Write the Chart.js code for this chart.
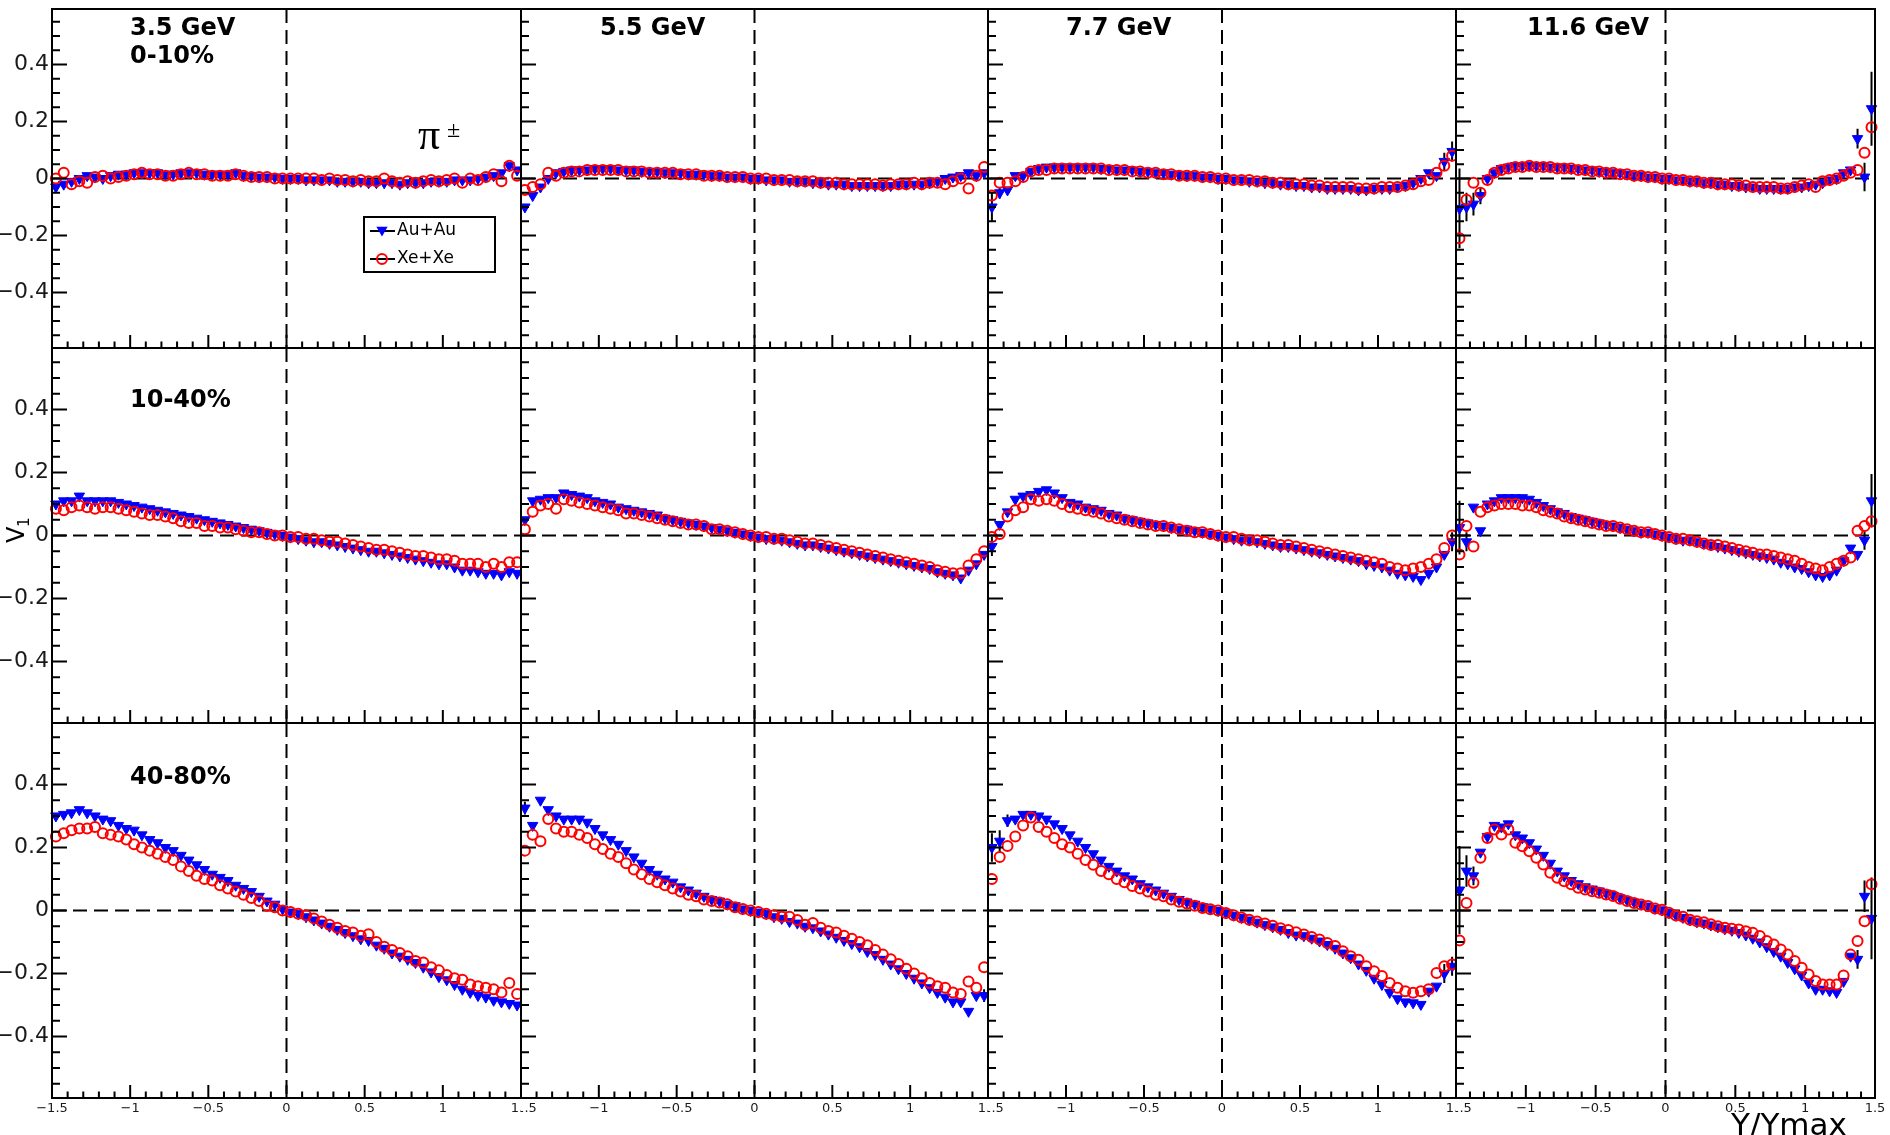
<!DOCTYPE html>
<html>
<head>
<meta charset="utf-8">
<title>v1 vs Y/Ymax, pi+-</title>
<script src="https://cdn.jsdelivr.net/npm/chart.js@4.4.0/dist/chart.umd.min.js"></script>
<style>
  html, body { margin: 0; padding: 0; background: #fff; }
  #page { position: relative; width: 1890px; height: 1135px; overflow: hidden; background: #fff; }
  #page canvas { position: absolute; }
</style>
</head>
<body>
<div id="page"></div>
<script>
// bin centres, Y/Ymax
const yBins = [
  -1.475, -1.425, -1.375, -1.325, -1.275, -1.225, -1.175, -1.125, -1.075, -1.025,
  -0.975, -0.925, -0.875, -0.825, -0.775, -0.725, -0.675, -0.625, -0.575, -0.525,
  -0.475, -0.425, -0.375, -0.325, -0.275, -0.225, -0.175, -0.125, -0.075, -0.025,
  0.025, 0.075, 0.125, 0.175, 0.225, 0.275, 0.325, 0.375, 0.425, 0.475,
  0.525, 0.575, 0.625, 0.675, 0.725, 0.775, 0.825, 0.875, 0.925, 0.975,
  1.025, 1.075, 1.125, 1.175, 1.225, 1.275, 1.325, 1.375, 1.425, 1.475
];

// ---- 0-10% ----
const au35_c0010 = [
  -0.03, -0.02, -0.01, 0.0, 0.01, 0.005, 0.0, 0.01, 0.015, 0.015,
  0.02, 0.02, 0.02, 0.02, 0.015, 0.015, 0.02, 0.02, 0.02, 0.015,
  0.015, 0.015, 0.015, 0.02, 0.01, 0.01, 0.005, 0.005, 0.005, 0.0,
  0.0, 0.0, -0.005, -0.005, -0.005, -0.005, -0.01, -0.01, -0.01, -0.01,
  -0.015, -0.015, -0.015, -0.015, -0.02, -0.015, -0.015, -0.015, -0.01, -0.01,
  -0.01, -0.005, -0.005, -0.005, 0.0, 0.005, 0.01, 0.02, 0.045, 0.03
];
const xe35_c0010 = [
  0.0, 0.02, -0.02, -0.01, -0.015, 0.005, 0.01, 0.0, 0.005, 0.01,
  0.015, 0.02, 0.015, 0.015, 0.01, 0.01, 0.015, 0.02, 0.015, 0.015,
  0.01, 0.01, 0.01, 0.015, 0.01, 0.005, 0.005, 0.005, 0.0, 0.0,
  0.0, 0.0, 0.0, 0.0, -0.005, 0.0, -0.005, -0.005, -0.01, -0.005,
  -0.01, -0.01, 0.0, -0.01, -0.015, -0.01, -0.015, -0.01, -0.005, -0.01,
  -0.005, 0.0, -0.015, 0.0, -0.005, 0.005, 0.015, -0.01, 0.045, 0.01
];
const au55_c0010 = [
  -0.10, -0.06, -0.03, 0.0, 0.02, 0.025, 0.03, 0.03, 0.03, 0.035,
  0.035, 0.035, 0.03, 0.03, 0.03, 0.025, 0.025, 0.025, 0.02, 0.02,
  0.02, 0.015, 0.015, 0.015, 0.01, 0.01, 0.005, 0.005, 0.005, 0.0,
  0.0, -0.005, -0.005, -0.005, -0.01, -0.01, -0.01, -0.015, -0.015, -0.02,
  -0.02, -0.02, -0.025, -0.025, -0.025, -0.025, -0.025, -0.025, -0.02, -0.02,
  -0.02, -0.02, -0.015, -0.01, 0.0, 0.005, 0.01, 0.02, 0.01, 0.02
];
const xe55_c0010 = [
  -0.04, -0.03, -0.02, 0.02, 0.01, 0.02, 0.025, 0.025, 0.03, 0.03,
  0.03, 0.03, 0.03, 0.025, 0.025, 0.025, 0.02, 0.02, 0.02, 0.02,
  0.015, 0.015, 0.015, 0.01, 0.01, 0.01, 0.005, 0.005, 0.005, 0.0,
  0.0, 0.0, -0.005, -0.005, -0.005, -0.01, -0.01, -0.01, -0.015, -0.015,
  -0.015, -0.02, -0.02, -0.02, -0.02, -0.02, -0.025, -0.02, -0.02, -0.02,
  -0.015, -0.02, -0.015, -0.015, -0.02, -0.01, 0.0, -0.035, 0.01, 0.04
];
const au77_c0010 = [
  -0.10, -0.05, -0.04, 0.01, 0.01, 0.025, 0.035, 0.04, 0.04, 0.04,
  0.04, 0.04, 0.04, 0.04, 0.035, 0.035, 0.03, 0.03, 0.03, 0.025,
  0.025, 0.02, 0.02, 0.015, 0.015, 0.01, 0.01, 0.005, 0.005, 0.0,
  0.0, -0.005, -0.005, -0.01, -0.01, -0.015, -0.015, -0.02, -0.02, -0.025,
  -0.025, -0.03, -0.03, -0.035, -0.035, -0.035, -0.035, -0.04, -0.04, -0.035,
  -0.035, -0.035, -0.03, -0.025, -0.015, 0.0, 0.02, 0.01, 0.06, 0.095
];
const xe77_c0010 = [
  -0.06, -0.015, -0.015, -0.01, 0.005, 0.025, 0.03, 0.03, 0.035, 0.035,
  0.035, 0.035, 0.035, 0.035, 0.035, 0.03, 0.03, 0.03, 0.025, 0.025,
  0.02, 0.02, 0.015, 0.015, 0.01, 0.01, 0.01, 0.005, 0.005, 0.0,
  0.0, -0.005, -0.005, -0.005, -0.01, -0.01, -0.015, -0.015, -0.02, -0.02,
  -0.02, -0.025, -0.025, -0.03, -0.03, -0.03, -0.03, -0.035, -0.035, -0.035,
  -0.03, -0.03, -0.03, -0.025, -0.02, -0.01, -0.005, 0.02, 0.045, 0.08
];
const au116_c0010 = [
  -0.105, -0.10, -0.09, -0.06, 0.0, 0.02, 0.035, 0.04, 0.045, 0.045,
  0.045, 0.045, 0.045, 0.04, 0.04, 0.04, 0.035, 0.035, 0.03, 0.03,
  0.025, 0.025, 0.02, 0.02, 0.015, 0.01, 0.01, 0.005, 0.005, 0.0,
  0.0, -0.005, -0.005, -0.01, -0.01, -0.015, -0.015, -0.02, -0.02, -0.025,
  -0.025, -0.03, -0.03, -0.035, -0.035, -0.035, -0.035, -0.035, -0.03, -0.03,
  -0.025, -0.02, -0.015, -0.005, 0.0, 0.02, 0.03, 0.14, 0.005, 0.245
];
const xe116_c0010 = [
  -0.21, -0.075, -0.015, -0.05, -0.005, 0.02, 0.03, 0.035, 0.04, 0.04,
  0.045, 0.04, 0.04, 0.04, 0.035, 0.035, 0.035, 0.03, 0.03, 0.025,
  0.025, 0.02, 0.02, 0.015, 0.015, 0.01, 0.01, 0.005, 0.005, 0.0,
  0.0, -0.005, -0.005, -0.01, -0.01, -0.015, -0.015, -0.02, -0.02, -0.02,
  -0.025, -0.025, -0.03, -0.03, -0.03, -0.03, -0.035, -0.035, -0.03, -0.025,
  -0.02, -0.03, -0.01, -0.005, 0.0, 0.01, 0.02, 0.03, 0.09, 0.18
];

// ---- 10-40% ----
const au35_c1040 = [
  0.10, 0.11, 0.11, 0.125, 0.11, 0.11, 0.11, 0.11, 0.105, 0.10,
  0.095, 0.09, 0.085, 0.08, 0.075, 0.07, 0.065, 0.06, 0.055, 0.05,
  0.045, 0.04, 0.035, 0.03, 0.025, 0.02, 0.015, 0.01, 0.005, 0.0,
  -0.005, -0.01, -0.015, -0.02, -0.02, -0.025, -0.03, -0.035, -0.04, -0.045,
  -0.05, -0.05, -0.055, -0.06, -0.065, -0.07, -0.075, -0.08, -0.085, -0.09,
  -0.09, -0.10, -0.11, -0.11, -0.115, -0.12, -0.12, -0.125, -0.115, -0.12
];
const xe35_c1040 = [
  0.085, 0.08, 0.09, 0.095, 0.09, 0.085, 0.09, 0.09, 0.085, 0.08,
  0.075, 0.07, 0.065, 0.065, 0.06, 0.055, 0.045, 0.04, 0.04, 0.03,
  0.03, 0.025, 0.025, 0.02, 0.015, 0.01, 0.01, 0.005, 0.0, 0.0,
  -0.005, -0.005, -0.01, -0.01, -0.015, -0.02, -0.02, -0.025, -0.03, -0.035,
  -0.04, -0.045, -0.045, -0.05, -0.055, -0.06, -0.065, -0.065, -0.07, -0.075,
  -0.075, -0.08, -0.09, -0.09, -0.09, -0.10, -0.09, -0.10, -0.085, -0.085
];
const au55_c1040 = [
  0.05, 0.11, 0.115, 0.12, 0.12, 0.135, 0.13, 0.125, 0.12, 0.11,
  0.105, 0.10, 0.09, 0.085, 0.08, 0.075, 0.07, 0.065, 0.055, 0.05,
  0.045, 0.04, 0.035, 0.03, 0.025, 0.02, 0.015, 0.01, 0.005, 0.0,
  -0.005, -0.01, -0.01, -0.015, -0.02, -0.025, -0.03, -0.03, -0.035, -0.04,
  -0.045, -0.05, -0.055, -0.06, -0.065, -0.07, -0.075, -0.08, -0.085, -0.09,
  -0.095, -0.10, -0.105, -0.115, -0.12, -0.125, -0.135, -0.11, -0.09, -0.06
];
const xe55_c1040 = [
  0.02, 0.075, 0.095, 0.10, 0.085, 0.115, 0.11, 0.105, 0.10, 0.095,
  0.09, 0.085, 0.08, 0.07, 0.07, 0.065, 0.06, 0.055, 0.05, 0.045,
  0.04, 0.035, 0.035, 0.03, 0.02, 0.02, 0.015, 0.01, 0.005, 0.0,
  -0.005, -0.005, -0.01, -0.01, -0.015, -0.02, -0.025, -0.025, -0.03, -0.035,
  -0.04, -0.045, -0.05, -0.055, -0.06, -0.065, -0.07, -0.075, -0.08, -0.085,
  -0.09, -0.095, -0.10, -0.11, -0.115, -0.12, -0.12, -0.095, -0.075, -0.05
];
const au77_c1040 = [
  -0.035, 0.035, 0.075, 0.115, 0.125, 0.13, 0.14, 0.145, 0.135, 0.12,
  0.105, 0.10, 0.09, 0.085, 0.08, 0.07, 0.065, 0.055, 0.05, 0.045,
  0.04, 0.035, 0.03, 0.025, 0.02, 0.02, 0.015, 0.01, 0.005, 0.0,
  -0.005, -0.01, -0.015, -0.015, -0.02, -0.025, -0.03, -0.035, -0.035, -0.04,
  -0.045, -0.05, -0.055, -0.06, -0.065, -0.07, -0.075, -0.08, -0.09, -0.095,
  -0.10, -0.11, -0.12, -0.125, -0.13, -0.14, -0.12, -0.10, -0.06, -0.02
];
const xe77_c1040 = [
  -0.005, 0.005, 0.06, 0.08, 0.09, 0.115, 0.11, 0.115, 0.11, 0.10,
  0.09, 0.085, 0.08, 0.075, 0.07, 0.06, 0.055, 0.05, 0.045, 0.04,
  0.035, 0.03, 0.03, 0.025, 0.02, 0.015, 0.01, 0.01, 0.005, 0.0,
  -0.005, -0.005, -0.01, -0.015, -0.015, -0.02, -0.025, -0.03, -0.03, -0.035,
  -0.04, -0.045, -0.05, -0.055, -0.06, -0.065, -0.07, -0.075, -0.08, -0.085,
  -0.09, -0.10, -0.105, -0.11, -0.105, -0.10, -0.09, -0.075, -0.04, 0.0
];
const au116_c1040 = [
  0.025, -0.02, 0.09, 0.015, 0.10, 0.11, 0.12, 0.12, 0.12, 0.12,
  0.115, 0.105, 0.095, 0.085, 0.075, 0.07, 0.06, 0.055, 0.05, 0.045,
  0.04, 0.035, 0.03, 0.025, 0.02, 0.015, 0.01, 0.01, 0.005, 0.0,
  -0.005, -0.01, -0.015, -0.015, -0.02, -0.025, -0.03, -0.035, -0.04, -0.045,
  -0.05, -0.055, -0.06, -0.065, -0.07, -0.075, -0.085, -0.09, -0.10, -0.105,
  -0.115, -0.125, -0.13, -0.125, -0.11, -0.08, -0.04, -0.06, -0.015, 0.11
];
const xe116_c1040 = [
  -0.06, 0.03, -0.035, 0.075, 0.09, 0.095, 0.10, 0.10, 0.10, 0.095,
  0.095, 0.09, 0.08, 0.075, 0.07, 0.06, 0.055, 0.05, 0.045, 0.04,
  0.035, 0.03, 0.03, 0.025, 0.02, 0.015, 0.01, 0.01, 0.005, 0.0,
  -0.005, -0.01, -0.01, -0.015, -0.02, -0.025, -0.03, -0.03, -0.035, -0.04,
  -0.045, -0.05, -0.055, -0.06, -0.06, -0.065, -0.07, -0.075, -0.08, -0.09,
  -0.10, -0.105, -0.11, -0.10, -0.09, -0.08, -0.07, 0.015, 0.03, 0.045
];

// ---- 40-80% ----
const au35_c4080 = [
  0.30, 0.305, 0.31, 0.32, 0.31, 0.30, 0.29, 0.285, 0.27, 0.26,
  0.255, 0.24, 0.225, 0.215, 0.20, 0.19, 0.175, 0.16, 0.145, 0.13,
  0.115, 0.105, 0.095, 0.08, 0.07, 0.06, 0.045, 0.03, 0.02, 0.005,
  -0.005, -0.01, -0.02, -0.03, -0.04, -0.05, -0.06, -0.07, -0.08, -0.09,
  -0.095, -0.11, -0.12, -0.135, -0.145, -0.155, -0.165, -0.18, -0.195, -0.21,
  -0.22, -0.235, -0.25, -0.26, -0.27, -0.275, -0.285, -0.29, -0.295, -0.30
];
const xe35_c4080 = [
  0.235, 0.245, 0.255, 0.26, 0.26, 0.265, 0.245, 0.24, 0.235, 0.225,
  0.21, 0.20, 0.19, 0.18, 0.17, 0.16, 0.14, 0.125, 0.11, 0.10,
  0.095, 0.08, 0.07, 0.06, 0.05, 0.04, 0.03, 0.015, 0.01, 0.0,
  -0.005, -0.01, -0.015, -0.025, -0.035, -0.045, -0.055, -0.065, -0.07, -0.08,
  -0.075, -0.10, -0.115, -0.125, -0.135, -0.145, -0.16, -0.165, -0.18, -0.19,
  -0.205, -0.215, -0.22, -0.235, -0.24, -0.245, -0.25, -0.26, -0.23, -0.265
];
const au55_c4080 = [
  0.325, 0.27, 0.35, 0.32, 0.30, 0.29, 0.29, 0.29, 0.28, 0.26,
  0.24, 0.225, 0.21, 0.19, 0.17, 0.15, 0.13, 0.115, 0.10, 0.09,
  0.075, 0.065, 0.055, 0.045, 0.035, 0.03, 0.02, 0.015, 0.005, 0.0,
  -0.005, -0.01, -0.02, -0.025, -0.035, -0.04, -0.05, -0.055, -0.065, -0.075,
  -0.085, -0.095, -0.105, -0.115, -0.13, -0.14, -0.155, -0.17, -0.185, -0.20,
  -0.215, -0.23, -0.245, -0.26, -0.275, -0.29, -0.29, -0.32, -0.27, -0.27
];
const xe55_c4080 = [
  0.19, 0.24, 0.22, 0.29, 0.26, 0.25, 0.25, 0.24, 0.23, 0.21,
  0.195, 0.18, 0.17, 0.15, 0.13, 0.115, 0.10, 0.09, 0.08, 0.07,
  0.06, 0.05, 0.045, 0.035, 0.03, 0.025, 0.02, 0.01, 0.005, 0.0,
  -0.005, -0.01, -0.015, -0.02, -0.02, -0.03, -0.045, -0.04, -0.055, -0.065,
  -0.07, -0.08, -0.09, -0.10, -0.11, -0.125, -0.14, -0.155, -0.17, -0.185,
  -0.20, -0.215, -0.23, -0.24, -0.245, -0.26, -0.265, -0.225, -0.245, -0.18
];
const au77_c4080 = [
  0.20, 0.22, 0.285, 0.29, 0.305, 0.305, 0.30, 0.29, 0.275, 0.26,
  0.24, 0.22, 0.20, 0.18, 0.16, 0.14, 0.125, 0.11, 0.10, 0.085,
  0.075, 0.065, 0.055, 0.045, 0.035, 0.027, 0.02, 0.012, 0.005, 0.0,
  -0.008, -0.015, -0.022, -0.03, -0.037, -0.045, -0.052, -0.06, -0.07, -0.078,
  -0.08, -0.088, -0.097, -0.108, -0.12, -0.135, -0.15, -0.17, -0.19, -0.215,
  -0.235, -0.26, -0.28, -0.29, -0.293, -0.298, -0.256, -0.24, -0.20, -0.177
];
const xe77_c4080 = [
  0.10, 0.17, 0.205, 0.235, 0.27, 0.295, 0.265, 0.25, 0.23, 0.21,
  0.20, 0.18, 0.16, 0.145, 0.125, 0.115, 0.10, 0.09, 0.078, 0.07,
  0.06, 0.05, 0.045, 0.035, 0.028, 0.022, 0.015, 0.008, 0.004, 0.0,
  -0.008, -0.015, -0.022, -0.029, -0.035, -0.041, -0.048, -0.056, -0.062, -0.069,
  -0.076, -0.084, -0.092, -0.103, -0.113, -0.129, -0.145, -0.156, -0.177, -0.193,
  -0.208, -0.23, -0.245, -0.256, -0.261, -0.256, -0.25, -0.198, -0.177, -0.171
];
const au116_c4080 = [
  0.065, 0.125, 0.11, 0.185, 0.235, 0.27, 0.265, 0.275, 0.24, 0.23,
  0.215, 0.195, 0.175, 0.15, 0.125, 0.11, 0.095, 0.085, 0.075, 0.068,
  0.062, 0.055, 0.048, 0.04, 0.033, 0.027, 0.02, 0.014, 0.007, 0.002,
  -0.007, -0.015, -0.022, -0.03, -0.036, -0.04, -0.046, -0.052, -0.058, -0.063,
  -0.07, -0.078, -0.088, -0.10, -0.115, -0.13, -0.145, -0.165, -0.185, -0.205,
  -0.23, -0.25, -0.25, -0.255, -0.26, -0.225, -0.145, -0.155, 0.045, -0.025
];
const xe116_c4080 = [
  -0.095, 0.024, 0.088, 0.167, 0.23, 0.257, 0.241, 0.257, 0.215, 0.204,
  0.188, 0.167, 0.146, 0.12, 0.104, 0.093, 0.083, 0.072, 0.067, 0.061,
  0.056, 0.051, 0.046, 0.037, 0.03, 0.024, 0.019, 0.014, 0.006, 0.002,
  -0.007, -0.016, -0.02, -0.029, -0.034, -0.037, -0.044, -0.05, -0.055, -0.058,
  -0.06, -0.066, -0.071, -0.081, -0.097, -0.108, -0.124, -0.14, -0.16, -0.182,
  -0.203, -0.224, -0.235, -0.235, -0.235, -0.206, -0.14, -0.097, -0.034, 0.083
];

// visible Au+Au error bars: [bin index, half length]
const err77_c0010 = [[0, 0.05], [1, 0.02], [58, 0.03], [59, 0.035]];
const err116_c0010 = [[0, 0.14], [1, 0.05], [2, 0.04], [3, 0.03], [57, 0.035], [58, 0.05], [59, 0.13]];
const err77_c1040 = [[0, 0.03], [59, 0.03]];
const err116_c1040 = [[0, 0.085], [1, 0.03], [58, 0.03], [59, 0.085]];
const err55_c4080 = [[0, 0.02], [59, 0.02]];
const err77_c4080 = [[0, 0.045], [1, 0.035], [2, 0.02], [58, 0.03], [59, 0.03]];
const err116_c4080 = [[0, 0.14], [1, 0.05], [2, 0.03], [57, 0.03], [58, 0.05], [59, 0.13]];

const xMajorTicks = [-1.5, -1, -0.5, 0, 0.5, 1, 1.5];
const xMinorTicks = [-1.4, -1.3, -1.2, -1.1, -0.9, -0.8, -0.7, -0.6, -0.4, -0.3, -0.2, -0.1,
  0.1, 0.2, 0.3, 0.4, 0.6, 0.7, 0.8, 0.9, 1.1, 1.2, 1.3, 1.4];
const yMajorTicks = [-0.4, -0.2, 0, 0.2, 0.4];
const yMinorTicks = [-0.55, -0.5, -0.45, -0.35, -0.3, -0.25, -0.15, -0.1, -0.05,
  0.05, 0.1, 0.15, 0.25, 0.3, 0.35, 0.45, 0.5, 0.55];

const energies = ['3.5 GeV', '5.5 GeV', '7.7 GeV', '11.6 GeV'];
const centralities = ['0-10%', '10-40%', '40-80%'];

const auRows = [
  [au35_c0010, au55_c0010, au77_c0010, au116_c0010],
  [au35_c1040, au55_c1040, au77_c1040, au116_c1040],
  [au35_c4080, au55_c4080, au77_c4080, au116_c4080]
];
const xeRows = [
  [xe35_c0010, xe55_c0010, xe77_c0010, xe116_c0010],
  [xe35_c1040, xe55_c1040, xe77_c1040, xe116_c1040],
  [xe35_c4080, xe55_c4080, xe77_c4080, xe116_c4080]
];
const errRows = [
  [[], [], err77_c0010, err116_c0010],
  [[], [], err77_c1040, err116_c1040],
  [[], err55_c4080, err77_c4080, err116_c4080]
];

// layout of the pad grid (page pixels)
const PAGE_W = 1890, PAGE_H = 1135;
const colEdges = [52, 521, 988, 1456, 1875];
const rowEdges = [9, 348, 723, 1098];
const Y_AXIS_W = 52, X_AXIS_H = 30;
const Y_RANGE = 0.595;
const FONT = '"DejaVu Sans", "Liberation Sans", Arial, sans-serif';
const energyX = [130, 600, 1066, 1527];
const centralityY = [63, 407, 784];

const page = document.getElementById('page');
const fmt = v => (v < 0 ? '\u2212' : '') + String(Math.abs(v));

function drawTriangleDown(ctx, x, y, r) {
  ctx.beginPath();
  ctx.moveTo(x - r * 0.866, y - r * 0.5);
  ctx.lineTo(x + r * 0.866, y - r * 0.5);
  ctx.lineTo(x, y + r);
  ctx.closePath();
  ctx.fill();
}

function makePanel(r, c) {
  const L = colEdges[c], R = colEdges[c + 1], T = rowEdges[r], B = rowEdges[r + 1];
  const showY = c === 0, showX = r === 2;
  // the canvas covers the whole pad, so labels on pad borders get cut like in ROOT
  const padL = c === 0 ? 0 : L;
  const padR = c === 3 ? PAGE_W : R;
  const padT = r === 0 ? 0 : T;
  const padB = r === 2 ? PAGE_H : B;

  const cv = document.createElement('canvas');
  cv.width = padR - padL;
  cv.height = padB - padT;
  cv.style.left = padL + 'px';
  cv.style.top = padT + 'px';
  page.appendChild(cv);

  const au = auRows[r][c], xe = xeRows[r][c], errs = errRows[r][c];

  const panelPlugin = {
    id: 'rootPanel',
    beforeDatasetsDraw(chart) {
      const ctx = chart.ctx, xs = chart.scales.x, ys = chart.scales.y;
      ctx.save();
      ctx.strokeStyle = '#000';
      ctx.lineWidth = 2;
      ctx.beginPath();
      errs.forEach(([i, e]) => {
        const px = xs.getPixelForValue(yBins[i]);
        ctx.moveTo(px, ys.getPixelForValue(au[i] - e));
        ctx.lineTo(px, ys.getPixelForValue(au[i] + e));
      });
      ctx.stroke();
      ctx.restore();
    },
    afterDraw(chart) {
      const ctx = chart.ctx, xs = chart.scales.x, ys = chart.scales.y, a = chart.chartArea;
      ctx.save();
      ctx.strokeStyle = '#000';
      ctx.lineWidth = 2;
      ctx.beginPath();
      yMinorTicks.forEach(v => { const py = ys.getPixelForValue(v); ctx.moveTo(a.left, py); ctx.lineTo(a.left + 8, py); });
      yMajorTicks.forEach(v => { const py = ys.getPixelForValue(v); ctx.moveTo(a.left, py); ctx.lineTo(a.left + 15, py); });
      xMinorTicks.forEach(v => { const px = xs.getPixelForValue(v); ctx.moveTo(px, a.bottom); ctx.lineTo(px, a.bottom - 6.5); });
      xMajorTicks.forEach(v => { const px = xs.getPixelForValue(v); ctx.moveTo(px, a.bottom); ctx.lineTo(px, a.bottom - 13); });
      ctx.stroke();
      ctx.strokeRect(a.left, a.top, a.right - a.left, a.bottom - a.top);

      // annotations, in page coordinates
      ctx.translate(-padL, -padT);
      ctx.fillStyle = '#000';
      ctx.textAlign = 'left';
      ctx.textBaseline = 'alphabetic';
      ctx.font = 'bold 24px ' + FONT;
      if (r === 0) ctx.fillText(energies[c], energyX[c], 35);
      if (c === 0) ctx.fillText(centralities[r], 130, centralityY[r]);

      if (r === 0 && c === 0) {
        ctx.font = '44px "Liberation Serif", "DejaVu Serif", serif';
        ctx.fillText('\u03c0', 418, 149);
        ctx.font = '24px "Liberation Serif", "DejaVu Serif", serif';
        ctx.fillText('\u00b1', 447, 137);

        // legend box
        ctx.lineWidth = 2;
        ctx.strokeRect(364, 217, 131, 55);
        ctx.beginPath();
        ctx.moveTo(370, 231); ctx.lineTo(395, 231);
        ctx.moveTo(370, 259); ctx.lineTo(395, 259);
        ctx.stroke();
        ctx.fillStyle = '#0000ff';
        drawTriangleDown(ctx, 382, 230, 6.5);
        ctx.strokeStyle = '#ff0000';
        ctx.beginPath();
        ctx.arc(382, 259, 5, 0, Math.PI * 2);
        ctx.stroke();
        ctx.fillStyle = '#000';
        ctx.font = '17px ' + FONT;
        ctx.textBaseline = 'middle';
        ctx.fillText('Au+Au', 397, 231);
        ctx.fillText('Xe+Xe', 397, 259);
      }

      if (r === 1 && c === 0) {
        ctx.save();
        ctx.translate(24, 543);
        ctx.rotate(-Math.PI / 2);
        ctx.textBaseline = 'alphabetic';
        ctx.font = '24px ' + FONT;
        ctx.fillText('V', 0, 0);
        ctx.font = '15px ' + FONT;
        ctx.fillText('1', 16, 5);
        ctx.restore();
      }

      if (r === 2 && c === 3) {
        ctx.textBaseline = 'alphabetic';
        ctx.font = '31px ' + FONT;
        ctx.fillText('Y/Ymax', 1731, 1135);
      }
      ctx.restore();
    }
  };

  new Chart(cv, {
    type: 'scatter',
    data: {
      datasets: [
        {
          label: 'Xe+Xe',
          data: yBins.map((x, i) => ({ x: x, y: xe[i] })),
          pointStyle: 'circle',
          pointRadius: 5,
          pointBorderWidth: 2,
          pointBorderColor: '#ff0000',
          pointBackgroundColor: 'rgba(255,255,255,0)',
          order: 0,
          clip: false
        },
        {
          label: 'Au+Au',
          data: yBins.map((x, i) => ({ x: x, y: au[i] })),
          pointStyle: 'triangle',
          pointRotation: 180,
          pointRadius: 6,
          pointBorderWidth: 1,
          pointBorderColor: '#0000ff',
          pointBackgroundColor: '#0000ff',
          order: 1,
          clip: false
        },
        {
          data: [{ x: -1.5, y: 0 }, { x: 1.5, y: 0 }],
          showLine: true, pointRadius: 0,
          borderColor: '#000', borderWidth: 2, borderDash: [14, 7],
          order: 2
        },
        {
          data: [{ x: 0, y: Y_RANGE }, { x: 0, y: -Y_RANGE }],
          showLine: true, pointRadius: 0,
          borderColor: '#000', borderWidth: 2, borderDash: [14, 7],
          order: 2
        }
      ]
    },
    options: {
      responsive: false,
      animation: false,
      devicePixelRatio: 1,
      events: [],
      layout: {
        autoPadding: false,
        padding: {
          left: L - padL - (showY ? Y_AXIS_W : 0),
          top: T - padT,
          right: padR - R,
          bottom: padB - B - (showX ? X_AXIS_H : 0)
        }
      },
      plugins: { legend: { display: false }, tooltip: { enabled: false } },
      scales: {
        x: {
          type: 'linear', min: -1.5, max: 1.5,
          display: showX,
          grid: { display: false, drawTicks: false },
          border: { display: false },
          afterBuildTicks: s => { s.ticks = xMajorTicks.map(v => ({ value: v })); },
          afterFit: s => {
            if (!showX) return;
            s.height = X_AXIS_H; s.paddingLeft = 0; s.paddingRight = 0;
          },
          ticks: {
            autoSkip: false, maxRotation: 0, minRotation: 0, padding: 3,
            color: '#1a1a1a', font: { family: FONT, size: 13 },
            callback: v => fmt(v)
          }
        },
        y: {
          type: 'linear', min: -Y_RANGE, max: Y_RANGE,
          display: showY,
          grid: { display: false, drawTicks: false },
          border: { display: false },
          afterBuildTicks: s => { s.ticks = yMajorTicks.map(v => ({ value: v })); },
          afterFit: s => {
            if (!showY) return;
            s.width = Y_AXIS_W; s.paddingTop = 0; s.paddingBottom = 0;
          },
          ticks: {
            autoSkip: false, padding: 3,
            color: '#1a1a1a', font: { family: FONT, size: 22 },
            callback: v => fmt(v)
          }
        }
      }
    },
    plugins: [panelPlugin]
  });
}

for (let r = 0; r < 3; r++) {
  for (let c = 0; c < 4; c++) makePanel(r, c);
}
</script>
</body>
</html>
